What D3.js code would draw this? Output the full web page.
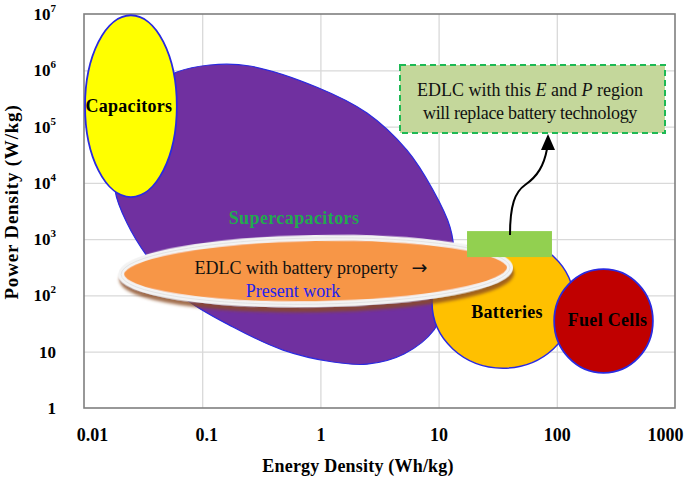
<!DOCTYPE html>
<html><head><meta charset="utf-8">
<script src="https://cdn.jsdelivr.net/npm/d3@7"></script>
<style>
html,body{margin:0;padding:0;background:#fff;}
svg{display:block;font-family:"Liberation Serif","Times New Roman",serif;}
</style></head><body>
<svg id="chart" width="685" height="481"></svg>
<script>
// ---------- data ----------
const energyTicks = [0.01, 0.1, 1, 10, 100, 1000];
const energyTickLabels = ["0.01", "0.1", "1", "10", "100", "1000"];
const powerTicks = [1, 10, 1e2, 1e3, 1e4, 1e5, 1e6, 1e7];
const powerTickBase = ["1", "10", "10", "10", "10", "10", "10", "10"];
const powerTickExp = ["", "", "2", "3", "4", "5", "6", "7"];

const techNames = ["Capacitors", "Batteries", "Fuel Cells"];
const techEnergy = [[0.0102, 0.061], [8.8, 140], [95, 650]];
const techPower = [[5600, 9.5e6], [5.1, 1090], [4.2, 294]];

const superName = "Supercapacitors";
const superEnergy = [0.0612, 0.116, 0.253, 0.935, 2.48, 5.4, 8.97, 12.5, 13.5, 12.2, 9.15, 5.1, 2.48, 1.28, 0.483, 0.182, 0.0689, 0.0361, 0.0231, 0.0183, 0.0194, 0.027, 0.0399];
const superPower = [9.3e5, 1.24e6, 1.19e6, 5.0e5, 1.74e5, 3.8e4, 7450, 1640, 522, 102, 24.3, 9.1, 6.0, 6.56, 10.7, 27.5, 94, 425, 1930, 7450, 3.83e4, 1.96e5, 5.46e5];

const presentEnergy = [0.0206, 40.2];
const presentPower = [70, 1050];
const presentLabel = "EDLC with battery property   ";
const presentArrow = "\u2192";
const presentSub = "Present work";

const targetEnergy = [17.4, 91];
const targetPower = [480, 1390];

const noteLine1 = ["EDLC with this ", "E", " and ", "P", " region"];
const noteLine2 = "will replace battery technology";

// ---------- styles ----------
const techFill = ["#FFFF00", "#FFC000", "#C00000"];
const techLabelOffset = [[-2, 0], [4, 9], [4, -1]];

// ---------- layout ----------
const svg = d3.select("#chart");
const L = 84, R = 675, T = 14, B = 408;
const x = d3.scaleLog().domain([0.01, 1000]).range([L, R]);
const y = d3.scaleLog().domain([1, 1e7]).range([B, T]);

const defs = svg.append("defs");
const f = defs.append("filter").attr("id", "shadow").attr("x", "-10%").attr("y", "-30%").attr("width", "120%").attr("height", "170%");
f.append("feDropShadow").attr("dx", 1).attr("dy", 5).attr("stdDeviation", 1.8)
  .attr("flood-color", "#8a4a22").attr("flood-opacity", 0.8);

// gridlines
svg.append("g").attr("transform", `translate(0,${B})`)
  .call(d3.axisBottom(x).tickValues(energyTicks.slice(1, -1)).tickSize(-(B - T)).tickFormat(""))
  .call(g => g.select(".domain").remove())
  .call(g => g.selectAll("line").attr("stroke", "#d9d9d9").attr("stroke-width", 1.3));
svg.append("g").attr("transform", `translate(${L},0)`)
  .call(d3.axisLeft(y).tickValues(powerTicks.slice(1, -1)).tickSize(-(R - L)).tickFormat(""))
  .call(g => g.select(".domain").remove())
  .call(g => g.selectAll("line").attr("stroke", "#d9d9d9").attr("stroke-width", 1.3));

// plot border
svg.append("rect").attr("x", L).attr("y", T).attr("width", R - L).attr("height", B - T)
  .attr("fill", "none").attr("stroke", "#7f7f7f").attr("stroke-width", 1.6);

// axes labels
const xAxis = svg.append("g").attr("transform", `translate(0,${B})`)
  .call(d3.axisBottom(x).tickValues(energyTicks).tickSize(0).tickPadding(20)
    .tickFormat((d, i) => energyTickLabels[i]));
xAxis.select(".domain").remove();
xAxis.selectAll("text").attr("font-family", "Liberation Serif").attr("font-size", 18)
  .attr("font-weight", "bold").attr("fill", "#000")
  .attr("dx", (d, i) => i === 0 ? 8 : (i === energyTicks.length - 1 ? -10 : (i === 1 ? 4 : 0)));

const yAxis = svg.append("g").attr("transform", `translate(${L},0)`)
  .call(d3.axisLeft(y).tickValues(powerTicks).tickSize(0).tickPadding(28).tickFormat(""));
yAxis.select(".domain").remove();
yAxis.selectAll("text").each(function (d, i) {
  const t = d3.select(this).attr("font-family", "Liberation Serif").attr("font-size", 17)
    .attr("font-weight", "bold").attr("fill", "#000").text(null);
  if (powerTickExp[i]) {
    t.append("tspan").text(powerTickBase[i]);
    t.append("tspan").attr("font-size", 11).attr("dy", -8).text(powerTickExp[i]);
  } else {
    t.text(powerTickBase[i]);
  }
});

svg.append("text").attr("transform", "translate(18,202) rotate(-90)")
  .attr("text-anchor", "middle").attr("font-size", 19).attr("font-weight", "bold")
  .attr("letter-spacing", 0.8).text("Power Density (W/kg)");
svg.append("text").attr("x", 358).attr("y", 472)
  .attr("text-anchor", "middle").attr("font-size", 18).attr("font-weight", "bold")
  .attr("letter-spacing", 0.2).text("Energy Density (Wh/kg)");

// helper to draw an ellipse from data extents
function ell(sel, e, p) {
  const x0 = x(e[0]), x1 = x(e[1]), y0 = y(p[1]), y1 = y(p[0]);
  return sel.append("ellipse").attr("cx", (x0 + x1) / 2).attr("cy", (y0 + y1) / 2)
    .attr("rx", (x1 - x0) / 2).attr("ry", (y1 - y0) / 2);
}

// supercapacitors region
const superPts = superEnergy.map((e, i) => [x(e), y(superPower[i])]);
svg.append("path").attr("d", d3.line().curve(d3.curveCatmullRomClosed.alpha(0.5))(superPts))
  .attr("fill", "#7030A0").attr("stroke", "#2a2ae0").attr("stroke-width", 1.2);

// capacitors, batteries, fuel cells
ell(svg, techEnergy[0], techPower[0]).attr("fill", techFill[0]).attr("stroke", "#2a2ae0").attr("stroke-width", 1.8);
ell(svg, techEnergy[1], techPower[1]).attr("fill", techFill[1]).attr("stroke", "#2a2ae0").attr("stroke-width", 1.5);
ell(svg, techEnergy[2], techPower[2]).attr("fill", techFill[2]).attr("stroke", "#2a2ae0").attr("stroke-width", 1.8);

// present work ellipse
const pcx = (x(presentEnergy[0]) + x(presentEnergy[1])) / 2;
const pcy = (y(presentPower[0]) + y(presentPower[1])) / 2;
const pg = svg.append("g").attr("transform", `rotate(-1,${pcx},${pcy})`);
ell(pg, presentEnergy, presentPower).attr("fill", "#F79646").attr("stroke", "#f3f3f3")
  .attr("stroke-width", 6).attr("filter", "url(#shadow)");
ell(pg, presentEnergy, presentPower).attr("fill", "none").attr("stroke", "#d8d8d8")
  .attr("stroke-width", 0.6);

// target rect
svg.append("rect").attr("x", x(targetEnergy[0])).attr("y", y(targetPower[1]))
  .attr("width", x(targetEnergy[1]) - x(targetEnergy[0]))
  .attr("height", y(targetPower[0]) - y(targetPower[1]))
  .attr("fill", "#92D050");

// tech labels
techNames.forEach((n, i) => {
  const cx = (x(techEnergy[i][0]) + x(techEnergy[i][1])) / 2 + techLabelOffset[i][0];
  const cy = (y(techPower[i][0]) + y(techPower[i][1])) / 2 + techLabelOffset[i][1];
  svg.append("text").attr("x", cx).attr("y", cy).attr("dy", "0.35em")
    .attr("text-anchor", "middle").attr("font-size", 18).attr("font-weight", "bold")
    .attr("letter-spacing", 0.3).attr("fill", "#000").text(n);
});

svg.append("text").attr("x", 294).attr("y", 224).attr("text-anchor", "middle")
  .attr("font-size", 18).attr("font-weight", "bold").attr("letter-spacing", 0.4)
  .attr("fill", "#22AA4E").text(superName);

const pl = svg.append("text").attr("x", 311).attr("y", 274).attr("text-anchor", "middle")
  .attr("font-size", 18).style("white-space", "pre").attr("fill", "#111");
pl.append("tspan").text(presentLabel);
pl.append("tspan").attr("font-family", "DejaVu Sans").attr("font-size", 19).text(presentArrow);
svg.append("text").attr("x", 293).attr("y", 297).attr("text-anchor", "middle")
  .attr("font-size", 18).attr("fill", "#2222ee").text(presentSub);

// arrow
svg.append("path").attr("d", "M510,235 C510,205 515,192 525,185 C538,176 544,165 547,149")
  .attr("fill", "none").attr("stroke", "#000").attr("stroke-width", 2);
svg.append("path").attr("d", "M548,134 L541,150 L555,150 Z").attr("fill", "#000");

// note box
svg.append("rect").attr("x", 400).attr("y", 65).attr("width", 265).attr("height", 68)
  .attr("fill", "#C4D79B").attr("stroke", "#1DB954").attr("stroke-width", 2)
  .attr("stroke-dasharray", "6,4");
const n1 = svg.append("text").attr("x", 530).attr("y", 96).attr("text-anchor", "middle")
  .attr("font-size", 18).attr("fill", "#111").style("white-space", "pre");
noteLine1.forEach((s, i) => n1.append("tspan").attr("font-style", (i === 1 || i === 3) ? "italic" : null).text(s));
svg.append("text").attr("x", 530).attr("y", 119).attr("text-anchor", "middle")
  .attr("font-size", 18).attr("fill", "#111").attr("letter-spacing", -0.3).text(noteLine2);
</script>
</body></html>
